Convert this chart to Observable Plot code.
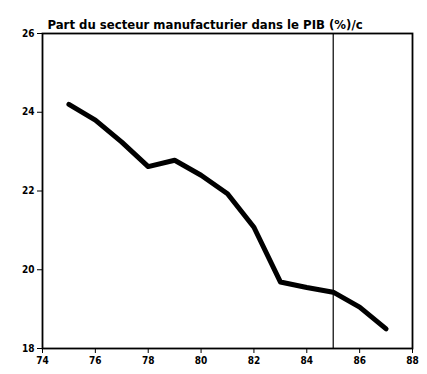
<!DOCTYPE html>
<html>
<head>
<meta charset="utf-8">
<script src="https://cdn.jsdelivr.net/npm/d3@7"></script>
<script src="https://cdn.jsdelivr.net/npm/@observablehq/plot@0.6"></script>
<style>
  html, body { margin: 0; padding: 0; background: #fff; }
</style>
</head>
<body>
<div id="chart"></div>
<script>
const title = "Part du secteur manufacturier dans le PIB (%)/c";
const years = [75, 76, 77, 78, 79, 80, 81, 82, 83, 84, 85, 86, 87];
const share = [24.2, 23.8, 23.24, 22.62, 22.78, 22.4, 21.93, 21.08, 19.69, 19.55, 19.43, 19.05, 18.5];
const xTicks = [74, 76, 78, 80, 82, 84, 86, 88];
const yTicks = [18, 20, 22, 24, 26];
const markerYear = [85];

const data = years.map((y, i) => ({year: y, value: share[i]}));

const chart = Plot.plot({
  width: 427,
  height: 374,
  marginLeft: 42,
  marginRight: 15,
  marginTop: 33,
  marginBottom: 26,
  style: {fontFamily: "'DejaVu Sans Condensed', 'DejaVu Sans', sans-serif", fontSize: "10px", fontWeight: "bold", background: "#fff", color: "#000"},
  x: {domain: [74, 88], ticks: xTicks, tickSize: 5, tickPadding: 3, label: null},
  y: {domain: [18, 26], ticks: yTicks, tickSize: 5, tickPadding: 3, label: null},
  marks: [
    Plot.frame({stroke: "#000", strokeWidth: 1.8}),
    Plot.ruleX(markerYear, {stroke: "#000", strokeWidth: 1.2}),
    Plot.line(data, {x: "year", y: "value", stroke: "#000", strokeWidth: 5, strokeLinejoin: "round", strokeLinecap: "round"}),
    Plot.text([title], {frameAnchor: "top-left", dx: 5, dy: -14, fontSize: 13, fontWeight: "bold", fill: "#000", textAnchor: "start"})
  ]
});
document.getElementById("chart").appendChild(chart);
</script>
</body>
</html>
